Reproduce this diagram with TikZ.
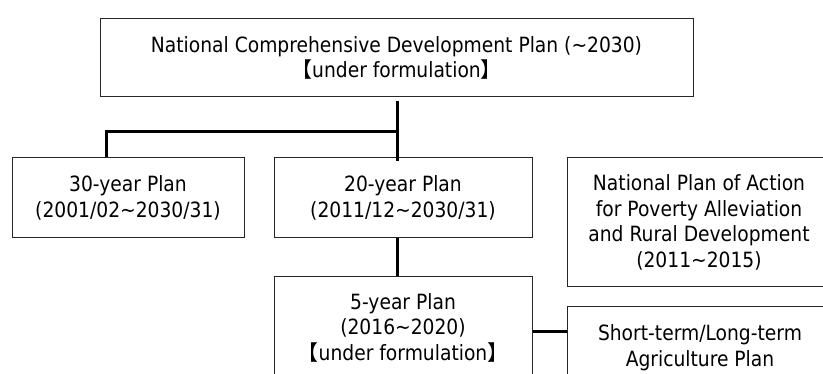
\documentclass[tikz,border=0pt]{standalone}
\usepackage{fontspec}
\setmainfont{DejaVu Sans}[FakeStretch=0.89]
\newfontfamily\cjkbr{Noto Sans CJK SC}
\usetikzlibrary{calc}
\newcommand{\tld}{\textasciitilde}
\newcommand{\lbr}{{\cjkbr 【}}
\newcommand{\rbr}{{\cjkbr 】}}
\begin{document}
\begin{tikzpicture}[x=1pt,y=-1pt,
  plan/.style={draw=black!85, line width=1pt, fill=white, rectangle,
    inner sep=0pt, align=center, font=\fontsize{21}{25.5}\selectfont},
  conn/.style={draw=black, line width=3pt}]
\useasboundingbox (0,0) rectangle (823,374);
\clip (0,0) rectangle (823,374);

% planning hierarchy boxes
\node[plan, minimum width=593, minimum height=78.5] (top) at (396.5,57.75)
  {National Comprehensive Development Plan (\tld2030)\\\lbr under formulation\rbr};
\node[plan, minimum width=232, minimum height=80] (thirty) at (128,198)
  {30-year Plan\\(2001/02\tld2030/31)};
\node[plan, minimum width=258, minimum height=80] (twenty) at (403,198)
  {20-year Plan\\(2011/12\tld2030/31)};
\node[plan, minimum width=264, minimum height=129] (npa) at (699,222.5)
  {National Plan of Action\\for Poverty Alleviation\\and Rural Development\\(2011\tld2015)};
\node[plan, minimum width=258, minimum height=101] (five) at (403,327.5)
  {5-year Plan\\(2016\tld2020)\\\lbr under formulation\rbr};
\node[plan, minimum width=266, minimum height=81] (short) at (700,347.5)
  {Short-term/Long-term\\Agriculture Plan};

% junction points of the connectors
\coordinate (fork) at (397,132);
\coordinate (lfork) at (106,132);
\coordinate (link) at (550,332);

\draw[conn] ($(top.south -| fork)+(0,4)$) -- ($(twenty.north -| fork)+(0,4)$);
\draw[conn] (fork) -- (lfork) -- (lfork |- thirty.north);
\draw[conn] (twenty.south -| fork) -- (five.north -| fork);
\draw[conn] (five.east |- link) -- (short.west |- link);
\end{tikzpicture}
\end{document}
